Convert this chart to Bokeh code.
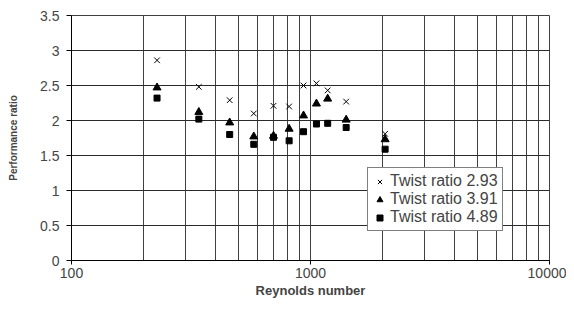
from bokeh.plotting import figure
from bokeh.models import Range1d, FixedTicker, Legend, LegendItem
from bokeh.embed import file_html
from bokeh.resources import INLINE

# Data
reynolds = [228, 341, 459, 579, 700, 814, 935, 1059, 1180, 1410, 2052]
twist_293 = [2.86, 2.48, 2.29, 2.10, 2.21, 2.20, 2.50, 2.53, 2.43, 2.27, 1.81]
twist_391 = [2.47, 2.12, 1.97, 1.77, 1.78, 1.88, 2.07, 2.24, 2.31, 2.01, 1.73]
twist_489 = [2.32, 2.02, 1.80, 1.66, 1.76, 1.71, 1.84, 1.95, 1.96, 1.90, 1.59]

x_major_ticks = [100, 1000, 10000]
x_grid_ticks = [100, 200, 300, 400, 500, 600, 700, 800, 900,
                1000, 2000, 3000, 4000, 5000, 6000, 7000, 8000, 9000, 10000]
y_ticks = [0, 0.5, 1, 1.5, 2, 2.5, 3, 3.5]

series_labels = ["Twist ratio 2.93", "Twist ratio 3.91", "Twist ratio 4.89"]

FONT = "Liberation Sans"
GRID = "#404040"

p = figure(width=566, height=301, x_axis_type="log",
           x_range=Range1d(100, 10000), y_range=Range1d(0, 3.5),
           output_backend="svg", toolbar_location=None,
           min_border_left=71, min_border_right=17,
           min_border_top=15, min_border_bottom=41)

p.background_fill_color = "white"
p.border_fill_color = "white"
p.outline_line_color = GRID

# grids
p.xgrid.ticker = FixedTicker(ticks=x_grid_ticks)
p.xgrid.grid_line_color = GRID
p.xgrid.grid_line_width = 1
p.ygrid.ticker = FixedTicker(ticks=y_ticks)
p.ygrid.grid_line_color = "#2a2a2a"
p.ygrid.grid_line_width = 1

# x axis
xa = p.xaxis[0]
xa.ticker = FixedTicker(ticks=x_major_ticks)
xa.major_label_overrides = {100: "100", 1000: "1000", 10000: "10000"}
xa.axis_label = "Reynolds number"
xa.axis_label_text_font = FONT
xa.axis_label_text_font_style = "bold"
xa.axis_label_text_font_size = "13px"
xa.axis_label_standoff = 2
xa.major_label_text_font = FONT
xa.major_label_text_font_size = "14px"
xa.major_label_standoff = 3
xa.major_tick_out = 4
xa.major_tick_in = 0
xa.minor_tick_out = 0
xa.minor_tick_in = 0
xa.axis_line_color = "black"
xa.major_tick_line_color = "black"

# y axis
ya = p.yaxis[0]
ya.ticker = FixedTicker(ticks=y_ticks)
ya.major_label_overrides = {0: "0", 0.5: "0.5", 1: "1", 1.5: "1.5", 2: "2",
                            2.5: "2.5", 3: "3", 3.5: "3.5"}
ya.axis_label = "Performance ratio"
ya.axis_label_text_font = FONT
ya.axis_label_text_font_style = "bold"
ya.axis_label_text_font_size = "10px"
ya.axis_label_standoff = 18
ya.major_label_text_font = FONT
ya.major_label_text_font_size = "14px"
ya.major_label_standoff = 7
ya.major_tick_out = 5
ya.major_tick_in = 0
ya.minor_tick_out = 0
ya.minor_tick_in = 0
ya.axis_line_color = "black"
ya.major_tick_line_color = "black"

r1 = p.scatter(reynolds, twist_293, marker="x", size=8, line_color="black",
               line_width=1)
r2 = p.scatter(reynolds, twist_391, marker="triangle", size=8,
               fill_color="black", line_color="black")
r3 = p.scatter(reynolds, twist_489, marker="square", size=6,
               fill_color="black", line_color="black")

legend = Legend(items=[LegendItem(label=series_labels[0], renderers=[r1]),
                       LegendItem(label=series_labels[1], renderers=[r2]),
                       LegendItem(label=series_labels[2], renderers=[r3])],
                location=(296, 29))
legend.border_line_color = "black"
legend.border_line_width = 1
legend.background_fill_color = "white"
legend.background_fill_alpha = 1
legend.label_text_font = FONT
legend.label_text_font_size = "16px"
legend.label_text_line_height = 1.0
legend.padding = 4
legend.margin = 0
legend.spacing = 0
legend.glyph_width = 15
legend.glyph_height = 17
legend.label_height = 17
legend.label_standoff = 3
p.add_layout(legend, "center")

open("out.html", "w").write(file_html(p, INLINE))
